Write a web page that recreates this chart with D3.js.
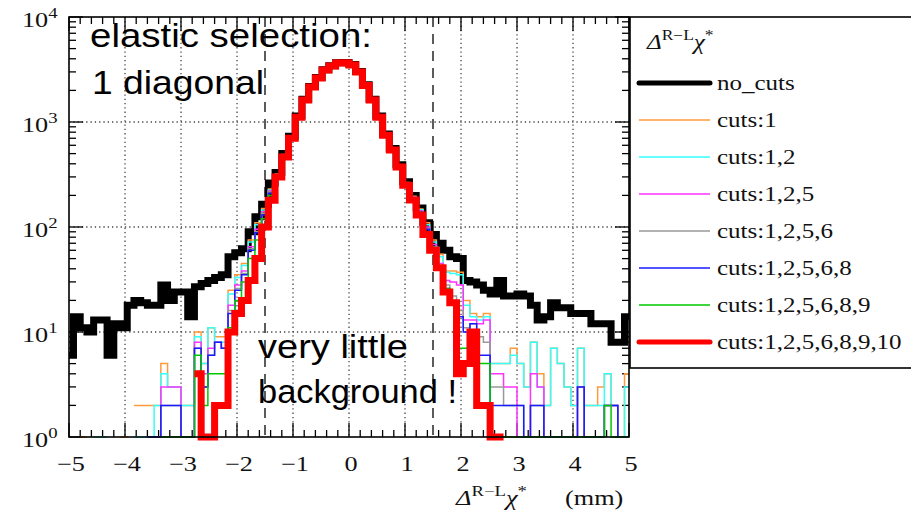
<!DOCTYPE html>
<html>
<head>
<meta charset="utf-8">
<script src="https://cdn.jsdelivr.net/npm/d3@7"></script>
<style>
  body { margin: 0; background: #fff; }
  svg { display: block; }
</style>
</head>
<body>
<div id="chart"></div>
<script>
// 0.12 mm bins, first visible bin starts at -5.04 mm
var binStart = -5.04
var binWidth = 0.12

var xTicks = [-5, -4, -3, -2, -1, 0, 1, 2, 3, 4, 5]
var yDecades = [0, 1, 2, 3, 4]
var cutLines = [-1.5, 1.5]

var seriesNames = ['no_cuts', 'cuts:1', 'cuts:1,2', 'cuts:1,2,5', 'cuts:1,2,5,6',
                   'cuts:1,2,5,6,8', 'cuts:1,2,5,6,8,9', 'cuts:1,2,5,6,8,9,10']
var seriesColors = ['#000000', '#ff9a3c', '#33ffff', '#ff33ff', '#999999',
                    '#1a1aff', '#00c800', '#ff0000']
var seriesWidths = [7, 1.5, 1.5, 1.5, 1.5, 1.5, 1.5, 7]

var noCuts = [6, 14, 11, 10, 13, 13, 6, 12, 11, 18,
  20, 19, 18, 18, 28, 20, 24, 24, 14, 27,
  29, 31, 33, 35, 52, 57, 62, 90, 125, 165,
  262, 330, 500, 730, 1140, 1650, 2180, 2650, 3150, 3440,
  3670, 3690, 3520, 3020, 2260, 1650, 1140, 770, 560, 392,
  270, 200, 152, 110, 85, 70, 60, 52, 50, 31,
  30, 28, 25, 23, 31, 22, 22, 23, 22, 18,
  13, 14, 19, 17, 17, 15, 15, 15, 12, 12,
  12, 8, 8, 14]
var cut1 = [0, 0, 1, 0, 1, 1, 0, 0, 1, 0,
  2, 2, 2, 2, 5, 3, 3, 2, 2, 10,
  5, 11, 9, 9, 25, 35, 45, 75, 110, 150,
  230, 320, 490, 718, 1128, 1638, 2168, 2638, 3138, 3428,
  3658, 3678, 3508, 3008, 2248, 1638, 1128, 764, 556, 388,
  266, 196, 148, 110, 75, 55, 38, 38, 37, 20,
  15, 14, 15, 5, 5, 5, 7, 5, 3, 8,
  4, 2, 7, 5, 3, 2, 7, 2, 2, 3,
  4, 2, 1, 4]
var cut12 = [0, 0, 0, 0, 1, 1, 0, 0, 0, 0,
  1, 1, 1, 2, 4, 3, 3, 2, 2, 9,
  5, 11, 8, 8, 23, 33, 43, 72, 105, 145,
  225, 315, 485, 716, 1126, 1636, 2166, 2636, 3136, 3426,
  3656, 3676, 3506, 3006, 2246, 1636, 1126, 762, 554, 386,
  264, 194, 146, 105, 72, 52, 37, 36, 35, 18,
  14, 13, 14, 5, 5, 5, 6, 5, 3, 8,
  3, 2, 7, 5, 3, 2, 7, 2, 2, 2,
  4, 2, 1, 3]
var cut125 = [0, 0, 0, 0, 0, 0, 0, 0, 0, 0,
  0, 0, 1, 1, 3, 3, 3, 1, 1, 8,
  4, 7, 8, 7, 18, 28, 38, 65, 95, 140,
  220, 310, 480, 714, 1124, 1634, 2164, 2634, 3134, 3424,
  3654, 3674, 3504, 3004, 2244, 1634, 1124, 760, 552, 384,
  262, 192, 142, 100, 68, 45, 31, 30, 28, 13,
  13, 12, 13, 4, 4, 3, 3, 1, 1, 4,
  3, 1, 1, 1, 1, 1, 3, 1, 1, 1,
  2, 2, 1, 1]
var cut1256 = [0, 0, 0, 0, 0, 0, 0, 0, 0, 0,
  0, 0, 1, 1, 2, 2, 2, 1, 1, 7,
  3, 6, 8, 7, 16, 26, 36, 62, 90, 135,
  215, 308, 478, 712, 1122, 1632, 2162, 2632, 3132, 3422,
  3652, 3672, 3502, 3002, 2242, 1632, 1122, 758, 550, 382,
  260, 190, 140, 97, 64, 43, 28, 22, 16, 11,
  12, 9, 8, 3, 3, 2, 2, 2, 1, 2,
  2, 1, 1, 1, 1, 1, 3, 1, 1, 1,
  2, 2, 1, 1]
var cut12568 = [0, 0, 0, 0, 0, 0, 0, 0, 0, 0,
  0, 0, 1, 1, 2, 2, 2, 1, 1, 7,
  3, 6, 8, 7, 15, 25, 35, 60, 88, 130,
  210, 305, 475, 710, 1120, 1630, 2160, 2630, 3130, 3420,
  3650, 3670, 3500, 3000, 2240, 1630, 1120, 756, 548, 380,
  258, 188, 138, 95, 62, 42, 26, 19, 14, 10,
  12, 6, 6, 2, 2, 2, 2, 2, 1, 2,
  2, 1, 1, 1, 1, 1, 3, 1, 1, 1,
  2, 2, 1, 1]
var cut125689 = [0, 0, 0, 0, 0, 0, 0, 0, 0, 0,
  0, 0, 0, 0, 1, 1, 1, 1, 1, 6,
  2, 4, 4, 4, 11, 20, 30, 50, 75, 120,
  200, 302, 470, 705, 1115, 1625, 2155, 2625, 3125, 3415,
  3645, 3665, 3495, 2995, 2235, 1625, 1115, 752, 544, 376,
  254, 185, 134, 90, 60, 41, 26, 19, 7, 7,
  10, 5, 5, 1, 1, 1, 1, 1, 1, 1,
  1, 1, 1, 1, 1, 1, 1, 1, 1, 1,
  2, 1, 1, 1]
var cutAll = [0, 0, 0, 0, 0, 0, 0, 0, 0, 0,
  0, 0, 0, 0, 0, 0, 0, 0, 0, 4,
  1, 1, 2, 2, 10, 15, 20, 31, 50, 100,
  180, 300, 464, 700, 1110, 1620, 2150, 2620, 3120, 3410,
  3640, 3660, 3490, 2990, 2230, 1620, 1110, 748, 540, 372,
  250, 181, 130, 85, 60, 41, 24, 19, 4, 5,
  10, 2, 2, 1, 1, 0, 0, 0, 0, 0,
  0, 0, 0, 0, 0, 0, 0, 0, 0, 0,
  0, 0, 0, 0]
var seriesValues = [noCuts, cut1, cut12, cut125, cut1256, cut12568, cut125689, cutAll]

var W = 911, H = 513
var pLeft = 69, pRight = 629, pTop = 17, pBottom = 437
var stretch = ' scale(1.25,1)'   // the slide is stretched sideways
var serif = '"Liberation Serif", "DejaVu Serif", serif'
var sans = '"Liberation Sans", Arial, sans-serif'

var svg = d3.select('#chart').append('svg')
    .attr('width', W)
    .attr('height', H)
    .style('font-family', serif)

var x = d3.scaleLinear().domain([-5, 5]).range([pLeft, pRight])
var y = d3.scaleLog().domain([1, 1e4]).range([pBottom, pTop])

svg.append('defs').append('clipPath').attr('id', 'plotclip')
  .append('rect')
    .attr('x', pLeft).attr('y', pTop - 4)
    .attr('width', pRight - pLeft).attr('height', pBottom - pTop + 8)

// dotted grid
var grid = svg.append('g')
    .style('stroke', '#444')
    .style('stroke-width', 1.3)
    .style('stroke-dasharray', '1.3,3')
grid.selectAll('.gx').data(xTicks.slice(1, -1)).enter().append('line')
    .attr('x1', d => x(d)).attr('x2', d => x(d))
    .attr('y1', pTop).attr('y2', pBottom)
grid.selectAll('.gy').data(yDecades.slice(1, -1)).enter().append('line')
    .attr('x1', pLeft).attr('x2', pRight)
    .attr('y1', d => y(Math.pow(10, d))).attr('y2', d => y(Math.pow(10, d)))

// dashed cut lines
svg.selectAll('.cut').data(cutLines).enter().append('line')
    .attr('x1', d => x(d)).attr('x2', d => x(d))
    .attr('y1', pTop).attr('y2', pBottom)
    .style('stroke', '#333')
    .style('stroke-width', 1.6)
    .style('stroke-dasharray', '10,7')

// ticks
var ticks = svg.append('g').style('stroke', '#000').style('stroke-width', 1.3)
var xMinor = d3.range(-50, 51, 2).map(d => d / 10)
xMinor.forEach(function(d) {
  var len = Math.abs(d - Math.round(d)) < 1e-6 ? 14 : 7
  ticks.append('line').attr('x1', x(d)).attr('x2', x(d)).attr('y1', pBottom).attr('y2', pBottom - len)
  ticks.append('line').attr('x1', x(d)).attr('x2', x(d)).attr('y1', pTop).attr('y2', pTop + len)
})
yDecades.forEach(function(n) {
  var ks = n < 4 ? [1, 2, 3, 4, 5, 6, 7, 8, 9] : [1]
  ks.forEach(function(k) {
    var v = k * Math.pow(10, n), len = k === 1 ? 14 : 7
    ticks.append('line').attr('x1', pLeft).attr('x2', pLeft + len).attr('y1', y(v)).attr('y2', y(v))
    ticks.append('line').attr('x1', pRight).attr('x2', pRight - len).attr('y1', y(v)).attr('y2', y(v))
  })
})

// histograms
var hist = svg.append('g').attr('clip-path', 'url(#plotclip)')
function histPath(vals) {
  var p = '', prev = 0
  vals.forEach(function(v, i) {
    var x0 = x(binStart + i * binWidth), x1 = x(binStart + (i + 1) * binWidth)
    if (v > 0) {
      p += (prev > 0 ? 'V' + y(v) : 'M' + x0 + ',' + y(v)) + 'H' + x1
    }
    prev = v
  })
  return p
}
hist.selectAll('path').data(seriesValues).enter().append('path')
    .attr('d', d => histPath(d))
    .style('fill', 'none')
    .style('stroke', (d, i) => seriesColors[i])
    .style('stroke-width', (d, i) => seriesWidths[i])
    .style('stroke-linejoin', 'miter')

// frame
svg.append('rect')
    .attr('x', pLeft).attr('y', pTop)
    .attr('width', pRight - pLeft).attr('height', pBottom - pTop)
    .style('fill', 'none').style('stroke', '#000').style('stroke-width', 1.6)

// x tick labels
svg.selectAll('.xl').data(xTicks).enter().append('text')
    .attr('transform', d => 'translate(' + (x(d) + 2) + ',471)' + stretch)
    .attr('text-anchor', 'middle')
    .style('font-size', '21px')
    .style('fill', '#111')
    .text(d => d < 0 ? '\u2212' + Math.abs(d) : d)

// y tick labels
var yl = svg.selectAll('.yl').data(yDecades).enter().append('text')
    .attr('transform', d => 'translate(22,' + (y(Math.pow(10, d)) + 10) + ')' + stretch)
    .style('font-size', '21px')
    .style('fill', '#111')
yl.append('tspan').text('10')
yl.append('tspan').attr('dy', -9).style('font-size', '15px').text(d => d)

// x axis title
var xt = svg.append('text')
    .attr('transform', 'translate(456,505)' + stretch)
    .style('font-size', '21px')
    .style('fill', '#111')
xt.append('tspan').style('font-style', 'italic').text('\u0394')
xt.append('tspan').attr('dy', -9).style('font-size', '15px').text('R\u2212L')
xt.append('tspan').attr('dy', 9).style('font-style', 'italic').text('\u03c7')
xt.append('tspan').attr('dy', -9).style('font-size', '15px').text('*')
svg.append('text')
    .attr('transform', 'translate(565,505)' + stretch)
    .style('font-size', '21px')
    .style('fill', '#111')
    .text('(mm)')

// legend
var lg = svg.append('g')
lg.append('rect')
    .attr('x', 630).attr('y', 17)
    .attr('width', 300).attr('height', 351)
    .style('fill', '#fff').style('stroke', '#000').style('stroke-width', 1.6)
var lt = lg.append('text')
    .attr('transform', 'translate(647,49)' + stretch)
    .style('font-size', '20px')
    .style('fill', '#111')
lt.append('tspan').style('font-style', 'italic').text('\u0394')
lt.append('tspan').attr('dy', -9).style('font-size', '14px').text('R\u2212L')
lt.append('tspan').attr('dy', 9).style('font-style', 'italic').text('\u03c7')
lt.append('tspan').attr('dy', -9).style('font-size', '14px').text('*')

var rowY = d3.scaleLinear().domain([0, 7]).range([83, 342])
var rows = lg.selectAll('.row').data(seriesNames).enter().append('g')
    .attr('transform', (d, i) => 'translate(0,' + rowY(i) + ')')
rows.append('line')
    .attr('x1', 639).attr('x2', 710)
    .style('stroke', (d, i) => seriesColors[i])
    .style('stroke-width', (d, i) => seriesWidths[i] > 2 ? 5 : 1.5)
    .style('stroke-linecap', (d, i) => seriesWidths[i] > 2 ? 'round' : 'butt')
rows.append('text')
    .attr('transform', 'translate(717,7)' + stretch)
    .style('font-size', '20px')
    .style('fill', '#111')
    .text(d => d)

// slide annotations
var notes = [
  { t: 'elastic selection:', x: 90, y: 47, w: 282 },
  { t: '1 diagonal', x: 92, y: 94, w: 172 },
  { t: 'very little', x: 258, y: 358, w: 150 },
  { t: 'background !', x: 258, y: 403, w: 199 }
]
svg.selectAll('.note').data(notes).enter().append('text')
    .attr('x', d => d.x)
    .attr('y', d => d.y)
    .attr('textLength', d => d.w)
    .attr('lengthAdjust', 'spacingAndGlyphs')
    .style('font-family', sans)
    .style('font-size', '33px')
    .style('fill', '#000')
    .text(d => d.t)
</script>
</body>
</html>
